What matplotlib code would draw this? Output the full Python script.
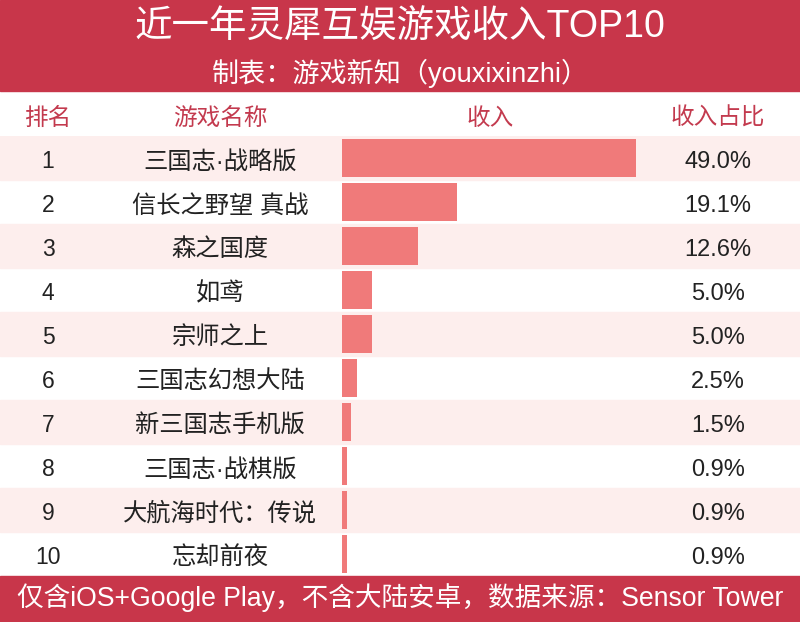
import matplotlib
matplotlib.use("Agg")
import matplotlib.pyplot as plt
from matplotlib.patches import Rectangle

plt.rcParams['font.family'] = ['Liberation Sans', 'Noto Sans CJK SC', 'DejaVu Sans']

# 数据
ranks = [1, 2, 3, 4, 5, 6, 7, 8, 9, 10]
games = ["三国志·战略版", "信长之野望 真战", "森之国度", "如鸢", "宗师之上",
         "三国志幻想大陆", "新三国志手机版", "三国志·战棋版", "大航海时代：传说", "忘却前夜"]
share = [49.0, 19.1, 12.6, 5.0, 5.0, 2.5, 1.5, 0.9, 0.9, 0.9]
headers = ["排名", "游戏名称", "收入", "收入占比"]

title = "近一年灵犀互娱游戏收入TOP10"
subtitle = "制表：游戏新知（youxixinzhi）"
footer = "仅含iOS+Google Play，不含大陆安卓，数据来源：Sensor Tower"

RED = "#c8364a"
HEAD = "#c33a4e"
BAR = "#f07a7a"
PINK = "#fdeeed"
DARK = "#222222"

W, H = 800, 622
fig = plt.figure(figsize=(W / 100, H / 100), dpi=100)

# 标题栏和底栏
fig.patches.append(Rectangle((0, 1 - 91 / H), 1, 91 / H, transform=fig.transFigure,
                             color=RED, zorder=0))
fig.patches.append(Rectangle((0, 0), 1, 46 / H, transform=fig.transFigure,
                             color=RED, zorder=0))
fig.text(0.5, 1 - 27 / H, title, color="white", fontsize=27, ha="center", va="center")
fig.text(0.5, 1 - 73 / H, subtitle, color="white", fontsize=19.5, ha="center", va="center")
fig.text(0.5, 24 / H, footer, color="white", fontsize=19.2, ha="center", va="center")

col_x = [48, 220, 490, 718]
for x, h in zip(col_x, headers):
    fig.text(x / W, 1 - 119 / H, h, color=HEAD, fontsize=17, ha="center", va="center")

# 表格主体
top, bottom = 136, 576
ax = fig.add_axes([0, 1 - bottom / H, 1, (bottom - top) / H])
ax.set_xlim(0, W)
ax.set_ylim(len(ranks) + 0.5, 0.5)
ax.axis("off")
for r in ranks:
    if r % 2 == 1:
        ax.axhspan(r - 0.5, r + 0.5, color=PINK, zorder=0)
dy = 0.09
for r, g, s in zip(ranks, games, share):
    ax.text(col_x[0], r + dy, str(r), color=DARK, fontsize=16.5, ha="center", va="center")
    ax.text(col_x[1], r + dy, g, color=DARK, fontsize=17.5, ha="center", va="center")
    ax.text(col_x[3], r + dy, f"{s:.1f}%", color=DARK, fontsize=17, ha="center", va="center")

# 条形
bx0, bx1 = 342, 642
bax = fig.add_axes([bx0 / W, 1 - bottom / H, (bx1 - bx0) / W, (bottom - top) / H])
bax.patch.set_alpha(0)
bax.barh(ranks, share, height=0.86, color=BAR, zorder=2)
bax.set_xlim(0, 50)
bax.set_ylim(len(ranks) + 0.5, 0.5)
bax.axis("off")

fig.savefig("out.png", dpi=100)
